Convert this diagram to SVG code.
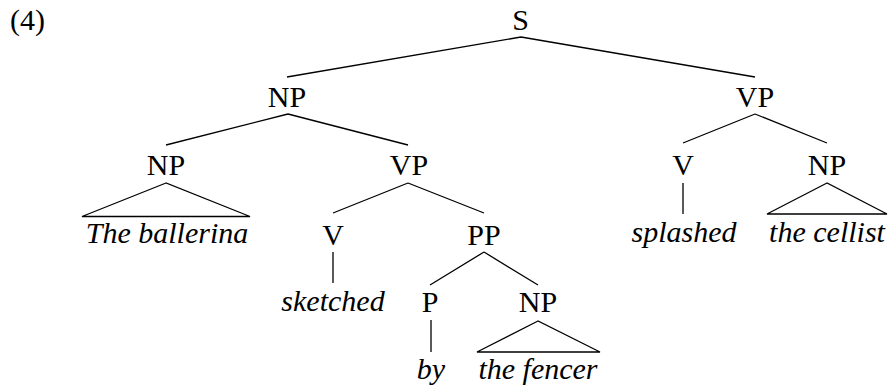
<svg xmlns="http://www.w3.org/2000/svg" width="891" height="387" viewBox="0 0 891 387">
  <style>
    text { font-family: "Liberation Serif", "Times New Roman", serif; font-size: 30px; fill: #000; text-anchor: middle; }
    .leaf { font-style: italic; }
    .edge { stroke: #000; stroke-width: 1.3; fill: none; stroke-linecap: butt; }
  </style>
  <rect width="891" height="387" fill="#fff"/>

  <!-- example number -->
  <text x="10" y="30" style="text-anchor:start">(4)</text>

  <!-- tree branches and leaf triangles -->
  <g id="connectors">
    <path class="edge" d="M521,37 L287,77 M521,37 L755,77"/>
    <path class="edge" d="M288,114 L166,145 M288,114 L408,145"/>
    <path class="edge" d="M755,114 L683,143 M755,114 L827,143"/>
    <path class="edge" d="M166,183 L82,216.5 L250,216.5 Z"/>
    <path class="edge" d="M408,183 L333,213 M408,183 L484,213"/>
    <path class="edge" d="M683,183 L683,214"/>
    <path class="edge" d="M827,183 L767,214 L887,214 Z"/>
    <path class="edge" d="M333,252 L333,283"/>
    <path class="edge" d="M484,252 L430,285 M484,252 L538,285"/>
    <path class="edge" d="M431,320 L431,352"/>
    <path class="edge" d="M538,321 L477,352 L600,352 Z"/>
  </g>

  <g id="s"><text x="520.5" y="30">S</text></g>
  <g id="np-subj"><text x="287" y="107">NP</text></g>
  <g id="vp-main"><text x="755" y="107">VP</text></g>

  <g id="np-ballerina"><text x="166" y="175">NP</text><text x="167" y="243" class="leaf">The ballerina</text></g>
  <g id="vp-rel"><text x="409" y="175">VP</text></g>
  <g id="v-splashed"><text x="683" y="175">V</text><text x="684" y="242" class="leaf">splashed</text></g>
  <g id="np-cellist"><text x="827" y="175">NP</text><text x="827" y="242" class="leaf">the cellist</text></g>

  <g id="v-sketched"><text x="333" y="245">V</text><text x="333" y="311" class="leaf">sketched</text></g>
  <g id="pp"><text x="484" y="245">PP</text></g>

  <g id="p-by"><text x="430" y="312">P</text><text x="431" y="379" class="leaf">by</text></g>
  <g id="np-fencer"><text x="538" y="312">NP</text><text x="538" y="379" class="leaf">the fencer</text></g>
</svg>
